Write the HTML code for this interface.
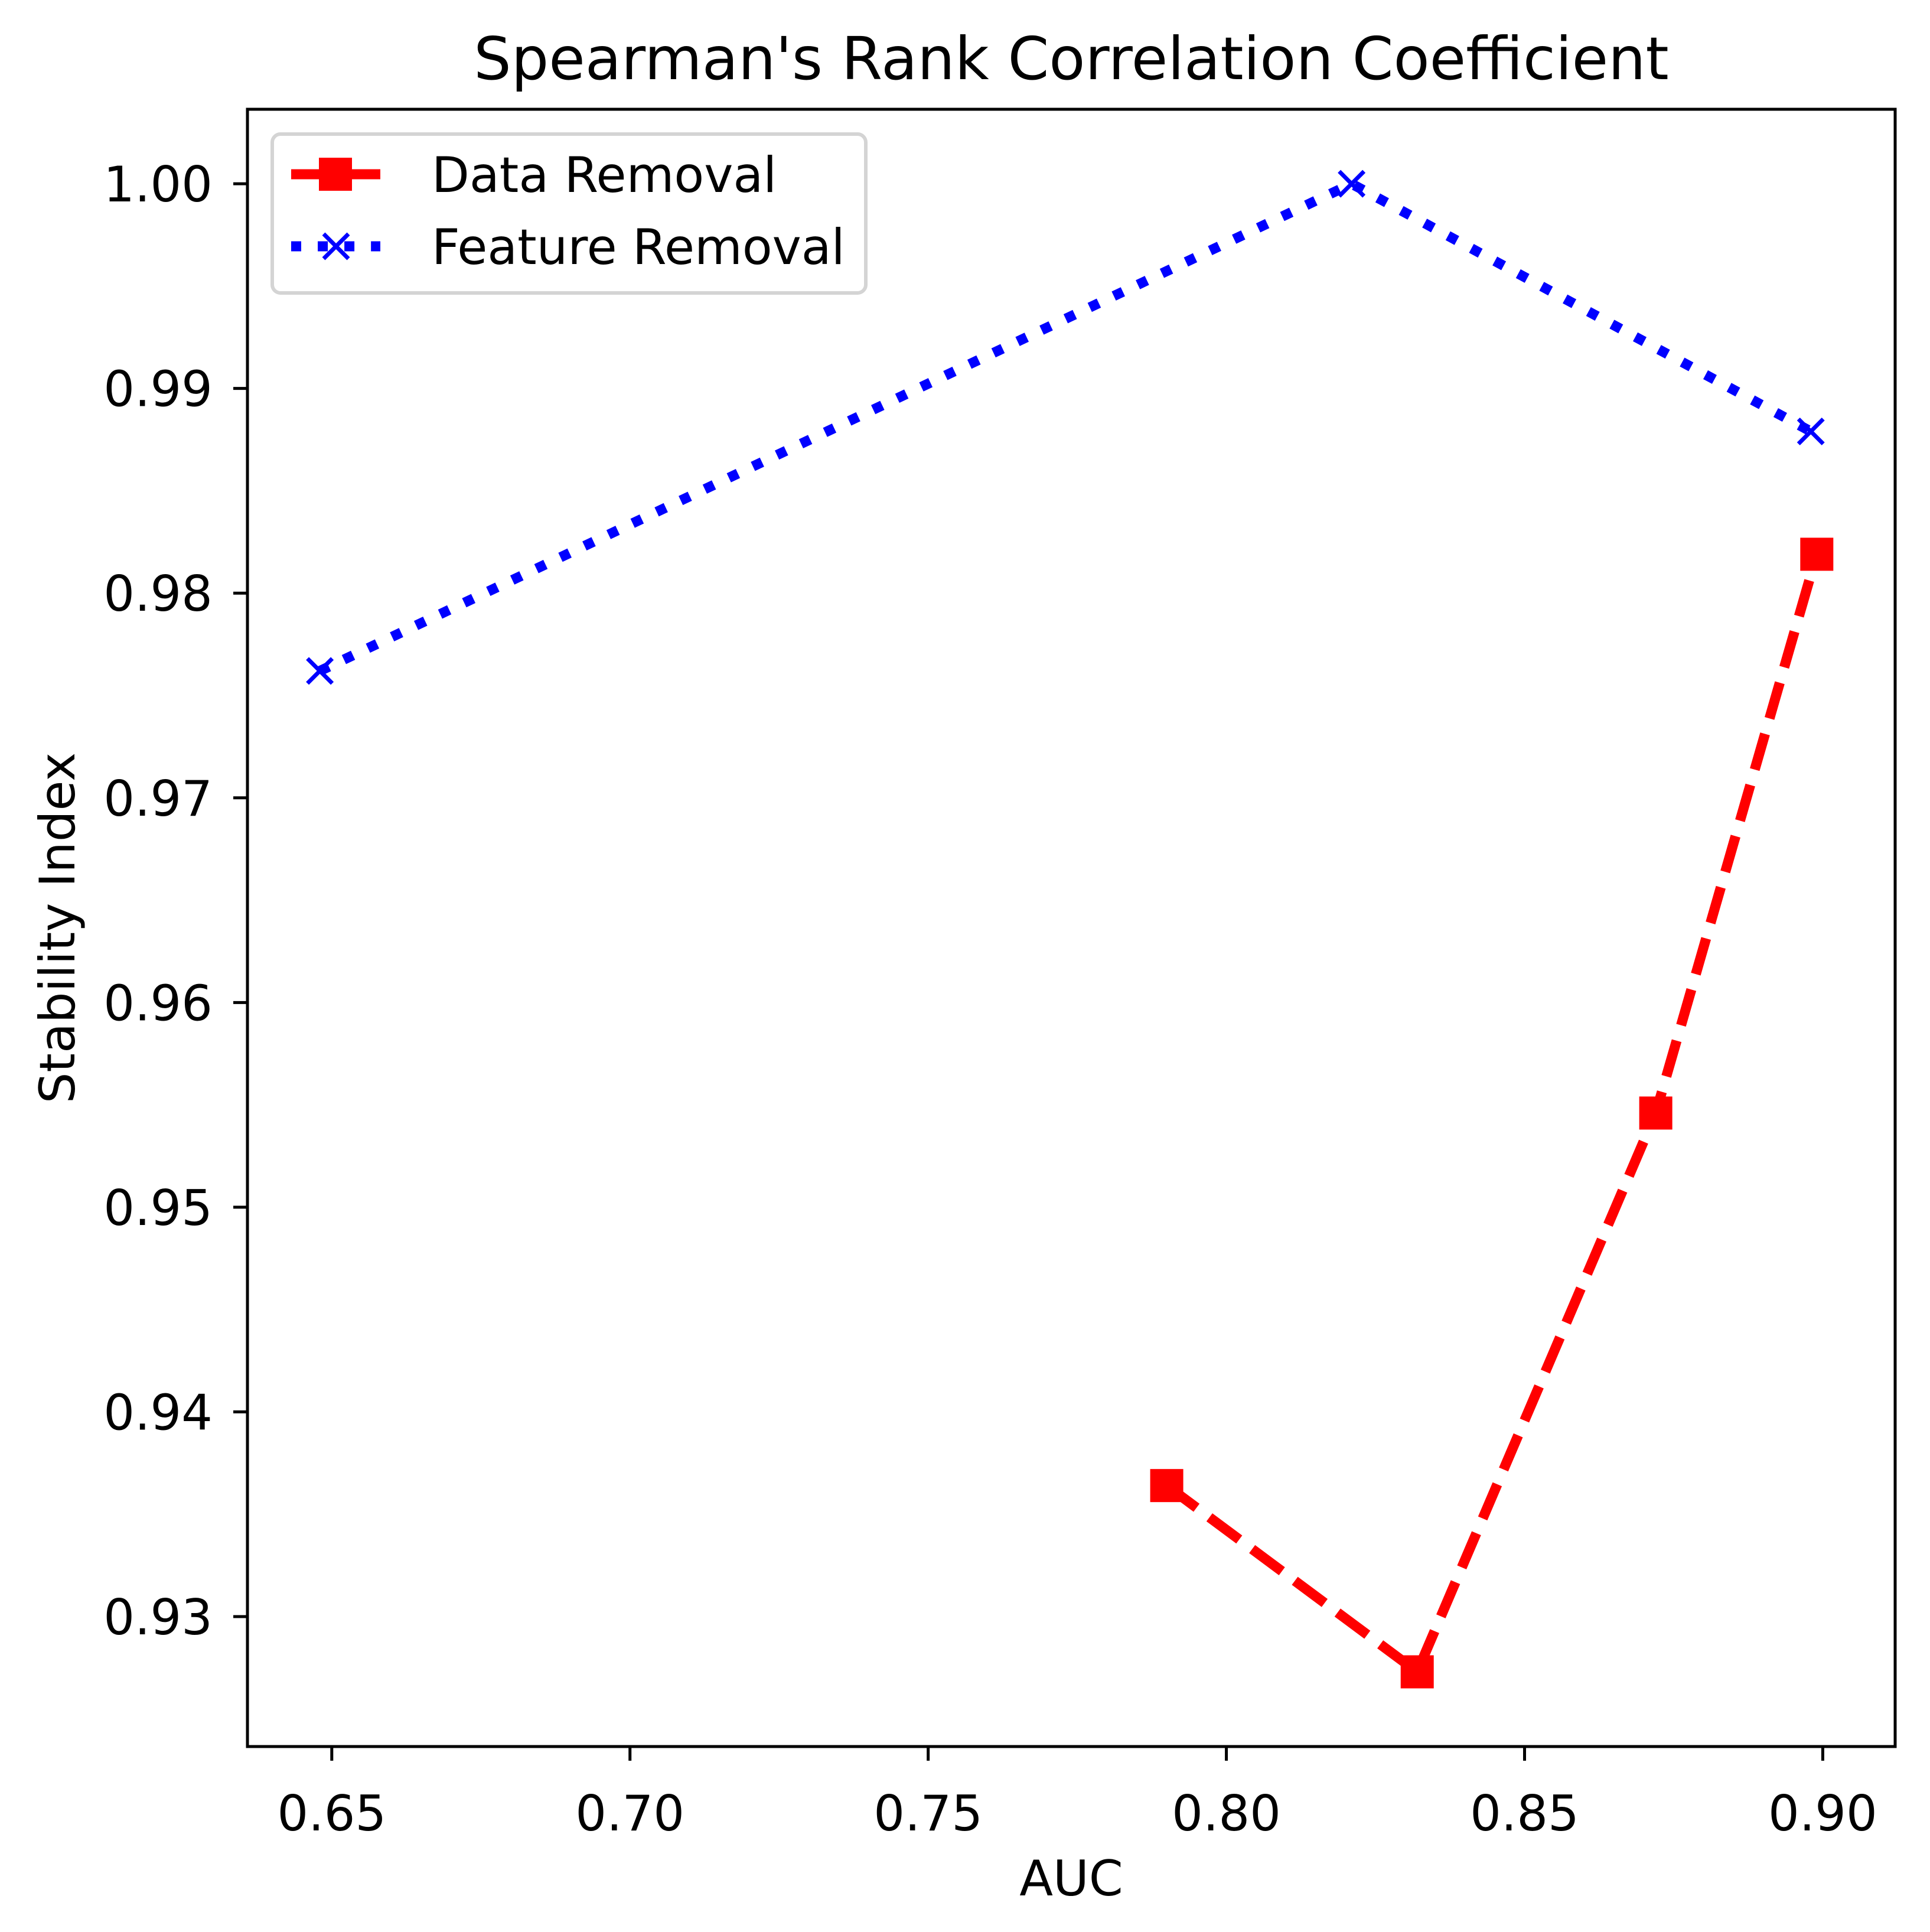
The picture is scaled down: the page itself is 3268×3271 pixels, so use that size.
<!DOCTYPE html>
<html><head><meta charset="utf-8"><style>
html,body{margin:0;padding:0;background:#fff}
svg{display:block}
text{font-family:"DejaVu Sans","Liberation Sans",sans-serif;fill:#000}
</style></head><body>
<svg id="chart" width="3268" height="3271" viewBox="0 0 3268 3271" xmlns="http://www.w3.org/2000/svg">
<rect width="3268" height="3271" fill="#fff"/>
<text x="1814" y="134" font-size="100" text-anchor="middle">Spearman's Rank Correlation Coefficient</text>
<g id="plot"></g>
<text x="1814" y="3209" font-size="83" text-anchor="middle">AUC</text>
<text transform="translate(126,1571) rotate(-90)" font-size="83" text-anchor="middle">Stability Index</text>
</svg>
<script>
const xTicks = [0.65, 0.70, 0.75, 0.80, 0.85, 0.90];
const yTicks = [0.93, 0.94, 0.95, 0.96, 0.97, 0.98, 0.99, 1.00];
const dataX = [0.790, 0.832, 0.872, 0.899];
const dataY = [0.9364, 0.9273, 0.9546, 0.9819];
const featX = [0.648, 0.821, 0.898];
const featY = [0.9762, 1.000, 0.9879];

const L=419, R=3209, T=185, B=2957;
const xMin=0.63586, xMax=0.91214, yMin=0.92365, yMax=1.00364;
const sx=v=>L+(v-xMin)/(xMax-xMin)*(R-L);
const sy=v=>B-(v-yMin)/(yMax-yMin)*(B-T);
const NS='http://www.w3.org/2000/svg';
const g=document.getElementById('plot');
function mk(tag,attrs,parent){const e=document.createElementNS(NS,tag);for(const k in attrs)e.setAttribute(k,attrs[k]);(parent||g).appendChild(e);return e;}

xTicks.forEach(v=>{
  const t=mk('line',{x1:sx(v),x2:sx(v),y1:B,y2:B+24,stroke:'#000','stroke-width':5});
  
  
  const lb=mk('text',{x:sx(v),y:3099,'font-size':83,'text-anchor':'middle'});
  lb.textContent=v.toFixed(2);
  
  
});
yTicks.forEach(v=>{
  const t=mk('line',{x1:L-24,x2:L,y1:sy(v),y2:sy(v),stroke:'#000','stroke-width':5});
  
  
  const lb=mk('text',{x:360,y:sy(v)+30,'font-size':83,'text-anchor':'end'});
  lb.textContent=v.toFixed(2);
  
  
});

const lw=17;
const redPts=dataX.map((x,i)=>sx(x)+','+sy(dataY[i])).join(' ');
const rl=mk('polyline',{points:redPts,fill:'none',stroke:'#ff0000','stroke-width':lw,'stroke-dasharray':(3.7*lw)+' '+(1.6*lw)});


dataX.forEach((x,i)=>{
  const m=mk('rect',{x:sx(x)-28,y:sy(dataY[i])-28,width:56,height:56,fill:'#ff0000'});
  
  
});
const bluePts=featX.map((x,i)=>sx(x)+','+sy(featY[i])).join(' ');
const bl=mk('polyline',{points:bluePts,fill:'none',stroke:'#0000ff','stroke-width':lw,'stroke-dasharray':lw+' '+(1.65*lw)});


featX.forEach((x,i)=>{
  const cx=sx(x),cy=sy(featY[i]),h=21;
  const m=mk('path',{d:`M${cx-h},${cy-h}L${cx+h},${cy+h}M${cx-h},${cy+h}L${cx+h},${cy-h}`,stroke:'#0000ff','stroke-width':7,fill:'none'});
  
  
});

const frame=mk('rect',{x:L,y:T,width:R-L,height:B-T,fill:'none',stroke:'#000','stroke-width':5});



// legend
const lg=mk('g',{});


mk('rect',{x:461,y:227,width:1005,height:269,rx:14,fill:'#fff','fill-opacity':0.8,stroke:'#d4d4d4','stroke-width':6},lg);
mk('line',{x1:493,x2:644,y1:295,y2:295,stroke:'#ff0000','stroke-width':lw,'stroke-dasharray':(3.7*lw)+' '+(1.6*lw)},lg);
mk('rect',{x:540,y:267,width:56,height:56,fill:'#ff0000'},lg);
const t1=mk('text',{x:731,y:325,'font-size':83},lg);t1.textContent='Data Removal';


mk('line',{x1:493,x2:644,y1:417,y2:417,stroke:'#0000ff','stroke-width':lw,'stroke-dasharray':lw+' '+(1.65*lw)},lg);
mk('path',{d:'M548,396L590,438M548,438L590,396',stroke:'#0000ff','stroke-width':7},lg);
const t2=mk('text',{x:731,y:447,'font-size':83},lg);t2.textContent='Feature Removal';


</script>
</body></html>
